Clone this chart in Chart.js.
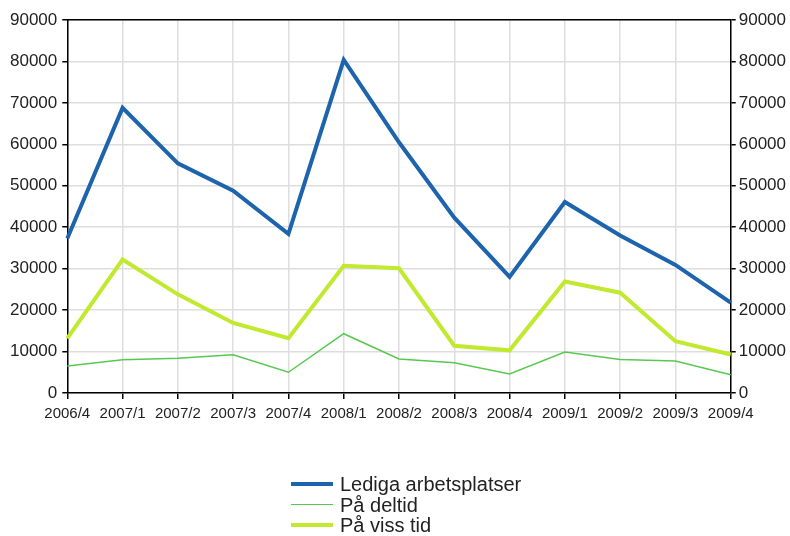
<!DOCTYPE html>
<html>
<head>
<meta charset="utf-8">
<script src="https://cdn.jsdelivr.net/npm/chart.js@4/dist/chart.umd.min.js"></script>
<style>
  body { margin: 0; background: #fff; }
  #wrap { position: relative; width: 790px; height: 536px; }
  #legend { position: absolute; left: 291px; top: 474px; font-family: "Liberation Sans", Arial, sans-serif; font-size: 20px; color: #222; }
  .row { height: 20.5px; line-height: 20.5px; display: flex; align-items: center; }
  .sw { width: 42px; margin-right: 7px; }
</style>
</head>
<body>
<div id="wrap">
  <canvas id="myChart" width="790" height="536"></canvas>
  <div id="legend"></div>
</div>
<script>
var quarters = ["2006/4","2007/1","2007/2","2007/3","2007/4","2008/1","2008/2","2008/3","2008/4","2009/1","2009/2","2009/3","2009/4"];
var lediga = [37300, 68800, 55400, 48800, 38400, 80400, 60500, 42300, 28000, 46100, 38000, 30900, 21800];
var deltid = [6500, 8000, 8400, 9200, 5000, 14300, 8200, 7300, 4600, 9900, 8100, 7700, 4400];
var visstid = [13200, 32200, 23800, 16900, 13200, 30700, 30100, 11400, 10300, 26900, 24200, 12500, 9300];
var yTicks = [0, 10000, 20000, 30000, 40000, 50000, 60000, 70000, 80000, 90000];

var seriesNames = ["Lediga arbetsplatser", "På deltid", "På viss tid"];
var seriesColors = ["#1d64ad", "#58c950", "#c0e930"];
var seriesWidths = [4, 1.5, 4];

var font = "'Liberation Sans', Arial, sans-serif";

var chartdata = {
  labels: quarters,
  datasets: [lediga, deltid, visstid].map(function(d, i) {
    return {
      label: seriesNames[i],
      data: d,
      borderColor: seriesColors[i],
      backgroundColor: seriesColors[i],
      borderWidth: seriesWidths[i],
      pointRadius: 0,
      tension: 0,
      fill: false
    };
  })
};

// y-axis helper, both sides share the same range
function yAxis(pos) {
  return {
    position: pos,
    min: 0,
    max: 90000,
    afterBuildTicks: function(ax) { ax.ticks = yTicks.map(function(v){ return {value: v}; }); },
    border: { color: "#000", width: 1.5 },
    grid: {
      display: true,
      drawOnChartArea: pos === "left",
      color: "#dedede",
      tickColor: "#000",
      tickLength: 5,
      lineWidth: 1.5
    },
    ticks: {
      color: "#222",
      padding: pos === "left" ? 5 : 3,
      font: { family: font, size: 17 },
      callback: function(v) { return String(v); }
    }
  };
}

var ctx = document.getElementById("myChart");
var lineGraph = new Chart(ctx, {
  type: "line",
  data: chartdata,
  options: {
    responsive: false,
    animation: false,
    layout: { padding: { left: 5, right: 1, top: 20, bottom: 107 } },
    plugins: { legend: { display: false }, tooltip: { enabled: false } },
    scales: {
      x: {
        offset: false,
        border: { color: "#000", width: 1.5 },
        grid: { color: "#dedede", tickColor: "#000", tickLength: 6, lineWidth: 1.5 },
        ticks: { color: "#222", padding: 6, maxRotation: 0, autoSkip: false, font: { family: font, size: 15 } }
      },
      xTop: {
        type: "category",
        position: "top",
        offset: false,
        border: { color: "#000", width: 1.5 },
        grid: { drawOnChartArea: false, drawTicks: false },
        ticks: { display: false }
      },
      y: yAxis("left"),
      yRight: yAxis("right")
    }
  }
});

// legend as html, stacked like the original
var lg = document.getElementById("legend");
seriesNames.forEach(function(n, i) {
  var row = document.createElement("div");
  row.className = "row";
  var sw = document.createElement("span");
  sw.className = "sw";
  sw.style.borderTop = seriesWidths[i] + "px solid " + seriesColors[i];
  var tx = document.createElement("span");
  tx.textContent = n;
  row.appendChild(sw);
  row.appendChild(tx);
  lg.appendChild(row);
});
</script>
</body>
</html>
